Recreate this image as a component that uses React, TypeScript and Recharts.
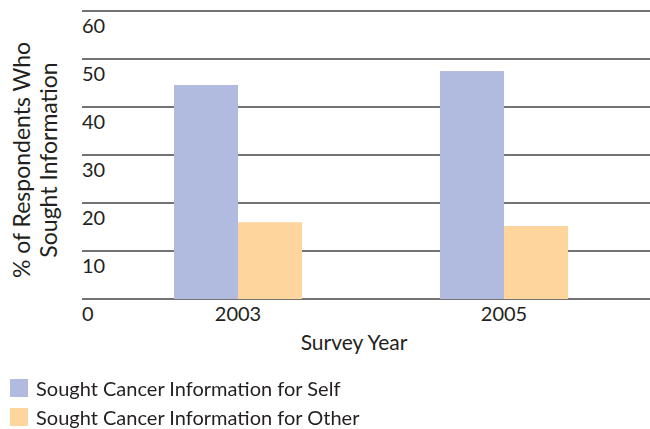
import React from "react";
import { BarChart, Bar, XAxis, YAxis, CartesianGrid } from "recharts";

// Survey years and share of respondents (%) who sought cancer information
const years = ["2003", "2005"];
const soughtForSelf = [44.6, 47.5];
const soughtForOther = [16.0, 15.2];
const yTicks = [0, 10, 20, 30, 40, 50, 60];

const seriesNames = [
  "Sought Cancer Information for Self",
  "Sought Cancer Information for Other",
];
const seriesColors = ["#b1bbdf", "#fed59d"];

const data = years.map((year, i) => ({
  year,
  self: soughtForSelf[i],
  other: soughtForOther[i],
}));

const FONT = "Lato, 'Open Sans', sans-serif";
const TEXT = "#231f20";

// Value labels sit just under their gridline, flush with the plot's left edge
const YTick = (props: any) => {
  const { x, y, payload } = props;
  return (
    <text x={x} y={y + 21.5} textAnchor="start" fontSize={20} fill={TEXT} fontFamily={FONT}>
      {payload.value}
    </text>
  );
};

const XTick = (props: any) => {
  const { x, y, payload } = props;
  return (
    <text x={x} y={y + 22} textAnchor="middle" fontSize={20} fill={TEXT} fontFamily={FONT}>
      {payload.value}
    </text>
  );
};

const YTitle = (props: any) => {
  const { viewBox } = props;
  const cy = viewBox.y + viewBox.height / 2 + 5;
  return (
    <g fontFamily={FONT} fontSize={23} fill={TEXT}>
      <text x={30} y={cy} textAnchor="middle" transform={`rotate(-90 30 ${cy})`}>
        % of Respondents Who
      </text>
      <text x={57} y={cy} textAnchor="middle" transform={`rotate(-90 57 ${cy})`}>
        Sought Information
      </text>
    </g>
  );
};

const XTitle = (props: any) => {
  const { viewBox } = props;
  const cx = viewBox.x + viewBox.width / 2 - 12;
  return (
    <text x={cx} y={viewBox.y + 51} textAnchor="middle" fontSize={21} fill={TEXT} fontFamily={FONT}>
      Survey Year
    </text>
  );
};

const LegendList = () => (
  <div
    style={{
      position: "absolute",
      left: 10,
      top: 373,
      fontFamily: FONT,
      fontSize: 20,
      color: TEXT,
    }}
  >
    {seriesNames.map((name, i) => (
      <div key={name} style={{ display: "flex", alignItems: "center", height: 29 }}>
        <span
          style={{
            display: "inline-block",
            width: 18,
            height: 18,
            background: seriesColors[i],
            marginRight: 8,
          }}
        />
        <span>{name}</span>
      </div>
    ))}
  </div>
);

export default function App() {
  return (
    <div style={{ position: "fixed", left: 0, top: 0, width: 650, height: 429, background: "#fff" }}>
      <BarChart
        width={650}
        height={429}
        data={data}
        margin={{ top: 11, right: 0, left: 81, bottom: 70 }}
        barCategoryGap={69}
        barGap={0}
      >
        <CartesianGrid vertical={false} stroke="#454545" strokeWidth={1.6} />
        <XAxis
          dataKey="year"
          axisLine={false}
          tickLine={false}
          tickSize={0}
          tickMargin={0}
          padding={{ left: 23, right: 13 }}
          height={60}
          tick={<XTick />}
          label={<XTitle />}
        />
        <YAxis
          width={1}
          domain={[0, 60]}
          ticks={yTicks}
          axisLine={false}
          tickLine={false}
          tickSize={0}
          tickMargin={0}
          tick={<YTick />}
          label={<YTitle />}
        />
        <Bar dataKey="self" name={seriesNames[0]} fill={seriesColors[0]} isAnimationActive={false} />
        <Bar dataKey="other" name={seriesNames[1]} fill={seriesColors[1]} isAnimationActive={false} />
      </BarChart>
      <LegendList />
    </div>
  );
}
